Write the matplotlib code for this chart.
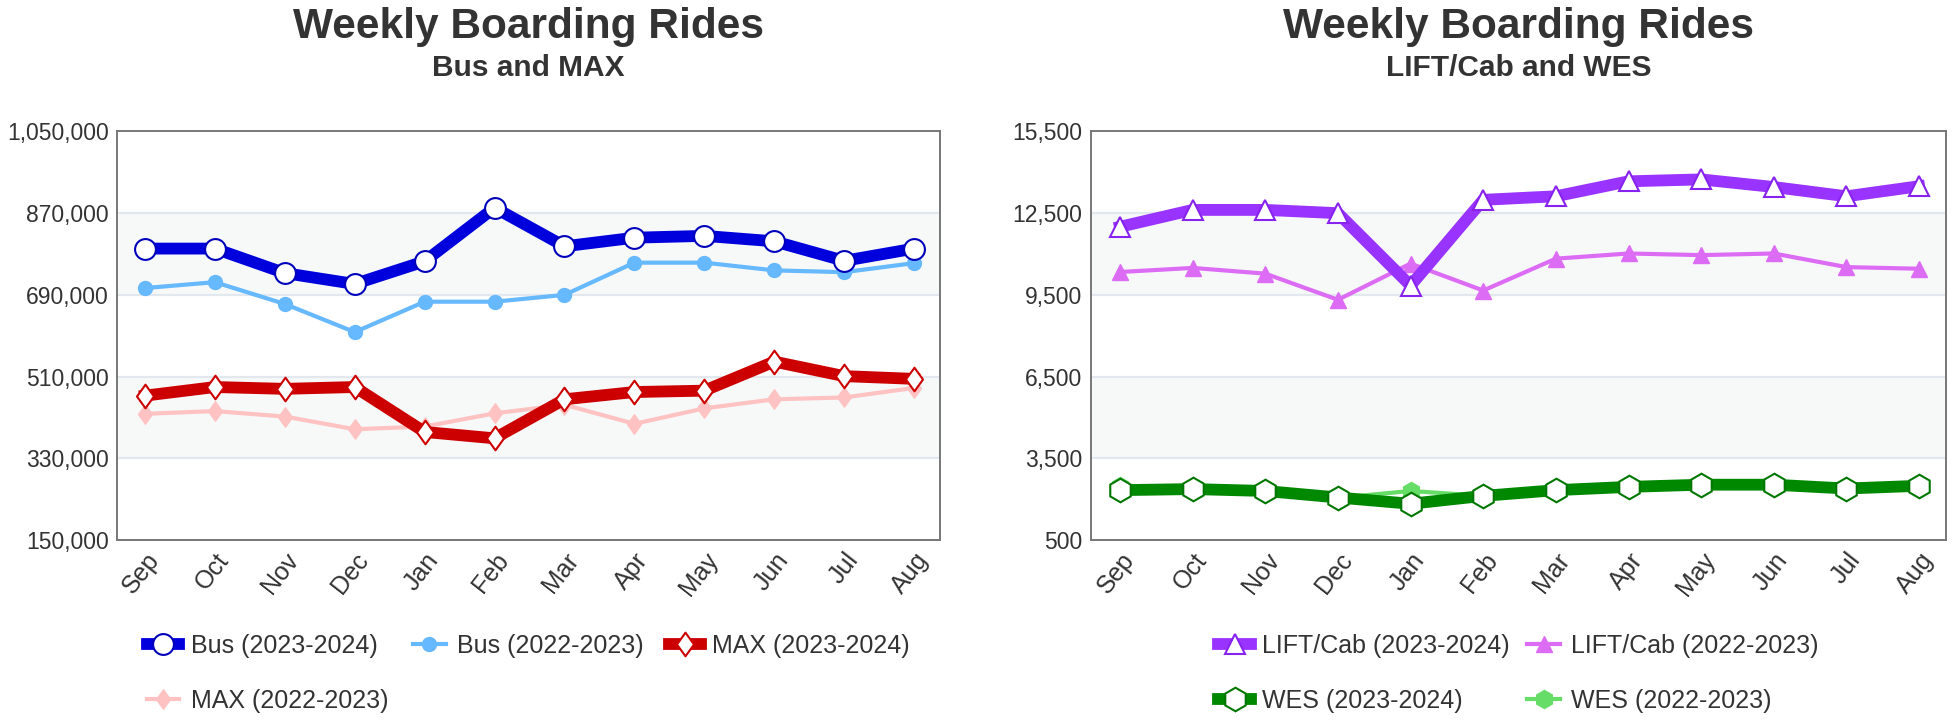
import matplotlib
matplotlib.use("Agg")
import matplotlib.pyplot as plt
from matplotlib.path import Path

plt.rcParams['font.family'] = ['Liberation Sans', 'DejaVu Sans']
plt.rcParams['text.color'] = '#333333'

months = ['Sep', 'Oct', 'Nov', 'Dec', 'Jan', 'Feb', 'Mar', 'Apr', 'May', 'Jun', 'Jul', 'Aug']

# Bus and MAX (weekly boarding rides)
bus_2324 = [792000, 792000, 738000, 714000, 764000, 882000, 797000, 816000, 820000, 808000, 765000, 792000]
bus_2223 = [705000, 718000, 670000, 608000, 675000, 675000, 690000, 761000, 761000, 744000, 740000, 760000]
max_2324 = [468000, 487000, 483000, 487000, 388000, 374000, 460000, 476000, 479000, 543000, 511000, 505000]
max_2223 = [428000, 434000, 422000, 394000, 400000, 429000, 448000, 406000, 440000, 460000, 464000, 485000]

# LIFT/Cab and WES
lift_2324 = [12000, 12620, 12620, 12500, 9840, 12990, 13120, 13670, 13740, 13460, 13120, 13490]
lift_2223 = [10340, 10490, 10280, 9320, 10650, 9660, 10830, 11020, 10960, 11020, 10520, 10460]
wes_2324 = [2330, 2370, 2300, 2060, 1830, 2120, 2330, 2450, 2530, 2530, 2390, 2490]
wes_2223 = [2500, 2370, 2300, 2050, 2300, 2120, 2320, 2440, 2520, 2520, 2380, 2480]

left_ticks = [150000, 330000, 510000, 690000, 870000, 1050000]
right_ticks = [500, 3500, 6500, 9500, 12500, 15500]

x = list(range(len(months)))

# a diamond a bit narrower than it is tall
diamond = Path([(0, 1), (0.72, 0), (0, -1), (-0.72, 0), (0, 1)],
               [Path.MOVETO, Path.LINETO, Path.LINETO, Path.LINETO, Path.CLOSEPOLY])

fig = plt.figure(figsize=(19.53, 7.2), dpi=100)
ax1 = fig.add_axes([0.0599, 0.25, 0.4214, 0.5674])
ax2 = fig.add_axes([0.5586, 0.25, 0.4378, 0.5674])


def style_axis(ax, ticks, fmt):
    ax.set_ylim(ticks[0], ticks[-1])
    ax.set_xlim(-0.4, 11.37)
    # alternating light bands
    for i in range(1, len(ticks) - 1, 2):
        ax.axhspan(ticks[i], ticks[i + 1], color='#f7f9f9', zorder=0, lw=0)
    for t in ticks[1:-1]:
        ax.axhline(t, color='#e2e8ee', lw=1.6, zorder=0.5)
    ax.set_yticks(ticks)
    ax.set_yticklabels([fmt(t) for t in ticks], fontsize=16.5, color='#333333')
    ax.set_xticks(x)
    ax.set_xticklabels(months, fontsize=18, color='#333333', rotation=52,
                       ha='right', va='top', rotation_mode='anchor')
    ax.tick_params(length=0, pad=6)
    for s in ax.spines.values():
        s.set_color('#777777')
        s.set_linewidth(1.4)


fmt = lambda v: f'{v:,}'
style_axis(ax1, left_ticks, fmt)
style_axis(ax2, right_ticks, fmt)

# left chart
ax1.plot(x, max_2223, color='#ffc2c2', lw=3, marker=diamond, ms=14, zorder=2,
         label='MAX (2022-2023)')
ax1.plot(x, bus_2223, color='#66b8ff', lw=3, marker='o', ms=10, zorder=2,
         label='Bus (2022-2023)')
ax1.plot(x, max_2324, color='#cc0000', lw=8.5, marker=diamond, ms=17, mfc='white',
         mec='#cc0000', mew=1.5, zorder=3, label='MAX (2023-2024)')
ax1.plot(x, bus_2324, color='#0000dd', lw=8.5, marker='o', ms=15, mfc='white',
         mec='#0000bb', mew=1.5, zorder=4, label='Bus (2023-2024)')

# right chart
ax2.plot(x, wes_2223, color='#66dd66', lw=3, marker='h', ms=13, zorder=2,
         label='WES (2022-2023)')
ax2.plot(x, lift_2223, color='#dd6cf5', lw=3, marker='^', ms=12, zorder=2,
         label='LIFT/Cab (2022-2023)')
ax2.plot(x, wes_2324, color='#008800', lw=8.5, marker='h', ms=17, mfc='white',
         mec='#007700', mew=1.5, zorder=3, label='WES (2023-2024)')
ax2.plot(x, lift_2324, color='#9933ff', lw=8.5, marker='^', ms=15, mfc='white',
         mec='#8822ee', mew=1.5, zorder=4, label='LIFT/Cab (2023-2024)')

# legends: matplotlib fills column by column, so reorder to read row by row
h1, l1 = ax1.get_legend_handles_labels()
order1 = ['Bus (2023-2024)', 'MAX (2022-2023)', 'Bus (2022-2023)', 'MAX (2023-2024)']
hh1 = [h1[l1.index(k)] for k in order1]
ax1.legend(hh1, order1, ncol=3, loc='center', bbox_to_anchor=(0.5, -0.327),
           frameon=False, fontsize=18, handlelength=1.3, handletextpad=0.45,
           columnspacing=1.0, labelspacing=1.25, labelcolor='#333333')

h2, l2 = ax2.get_legend_handles_labels()
order2 = ['LIFT/Cab (2023-2024)', 'WES (2023-2024)', 'LIFT/Cab (2022-2023)', 'WES (2022-2023)']
hh2 = [h2[l2.index(k)] for k in order2]
ax2.legend(hh2, order2, ncol=2, loc='center', bbox_to_anchor=(0.5, -0.327),
           frameon=False, fontsize=18, handlelength=1.3, handletextpad=0.45,
           columnspacing=0.7, labelspacing=1.25, labelcolor='#333333')

# titles
for ax, sub in [(ax1, 'Bus and MAX'), (ax2, 'LIFT/Cab and WES')]:
    pos = ax.get_position()
    cx = pos.x0 + pos.width / 2
    fig.text(cx, 0.9472, 'Weekly Boarding Rides', ha='center', va='baseline',
             fontsize=30.5, fontweight='bold', color='#333333')
    fig.text(cx, 0.8944, sub, ha='center', va='baseline',
             fontsize=21.5, fontweight='bold', color='#333333')

fig.savefig('out.png', dpi=100, facecolor='white')
